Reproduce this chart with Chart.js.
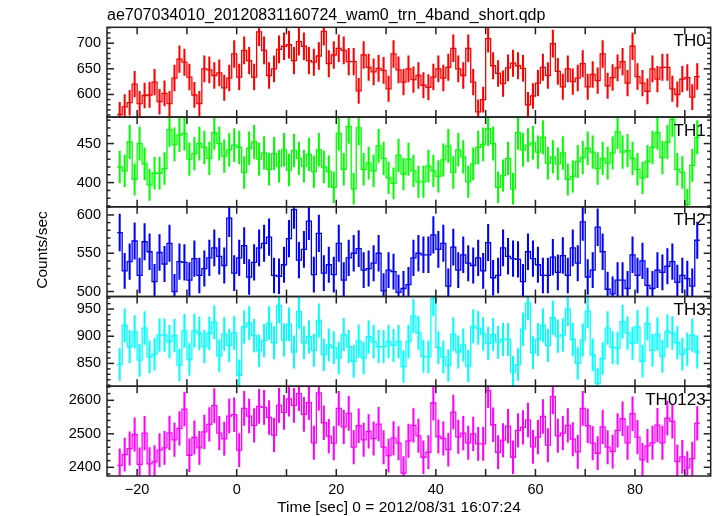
<!DOCTYPE html>
<html lang="en">
<head>
<meta charset="UTF-8">
<title>WAM light curve - 4 bands</title>
<script src="https://cdn.jsdelivr.net/npm/chart.js"></script>
<style>
  body { margin: 0; background: #fff; }
  #wrap { position: relative; width: 717px; height: 516px; }
</style>
</head>
<body>
<div id="wrap"><canvas id="lc" width="717" height="516"></canvas></div>
<script>
// time bins: 1 s wide, first bin starts at -24 s
const binStart = -24;
const binWidth = 1;
const xMin = -26.05;
const xMax = 95.2;
const xStep = 20;

const bandNames = ["TH0", "TH1", "TH2", "TH3", "TH0123"];
const bandColors = ["#ff0000", "#00ff00", "#0000ff", "#00ffff", "#ff00ff"];

// counts/sec per bin
const th0 = [
  561,576,584,620,582,598,599,624,586,602,582,632,669,663,634,599,582,650,648,637,642,613,632,679,634,686,666,634,722,686,637,650,688,694,697,666,703,694,
  666,663,675,723,660,677,690,686,664,664,607,677,653,644,651,647,611,679,648,624,650,629,637,618,614,634,650,632,653,690,650,637,690,624,566,590,709,656,641,621,652,
  661,656,651,580,597,622,653,637,699,645,615,650,625,632,660,615,639,627,679,617,633,652,664,622,694,635,622,606,650,630,653,653,611,600,630,633,595,635
];
const th1 = [
  420,415,452,404,450,424,397,412,412,418,468,449,461,463,430,437,450,445,431,464,450,434,442,448,445,413,444,452,430,438,417,437,421,442,416,441,431,421,
  436,414,442,420,414,394,463,417,472,392,470,417,425,415,447,431,406,399,435,411,430,415,401,401,421,415,408,429,447,413,442,433,401,424,445,449,469,450,394,409,431,
  392,464,442,448,451,439,458,425,433,424,438,404,408,427,432,444,439,418,431,425,438,465,439,441,431,417,406,427,445,464,432,452,481,417,413,372,422,458
];
const th2 = [
  577,527,539,566,521,565,552,513,551,536,563,500,539,538,515,543,521,530,544,557,546,534,596,524,544,560,519,538,557,563,571,521,520,535,569,607,541,555,
  592,522,576,524,535,522,563,515,544,550,556,528,530,537,550,501,528,526,499,504,509,544,550,548,548,574,555,563,507,558,528,548,537,534,544,527,564,518,521,557,546,
  543,542,513,552,543,535,521,521,545,525,547,521,557,537,591,519,528,584,552,503,497,515,515,504,548,521,540,508,504,528,525,533,539,512,521,517,507,567
];
const th3 = [
  848,920,881,908,856,915,862,867,902,902,890,901,847,910,857,910,905,881,905,926,864,904,883,906,828,917,924,901,873,892,924,888,956,893,922,871,945,888,
  899,874,929,866,884,879,860,903,881,854,891,860,899,890,881,881,890,883,890,844,890,937,906,863,862,969,879,862,846,904,871,884,845,918,915,904,887,903,889,894,
  894,834,848,913,961,870,894,920,883,934,900,902,950,894,850,893,946,866,813,859,915,879,878,927,906,887,917,854,923,874,904,863,909,906,888,867,876,902,871
];
const th0123 = [
  2406,2438,2456,2498,2409,2502,2410,2416,2451,2458,2503,2482,2516,2574,2436,2489,2458,2506,2528,2584,
  2502,2485,2553,2557,2451,2576,2553,2525,2582,2579,2549,2496,2585,2564,2604,2585,2620,2558,2593,2473,
  2622,2533,2493,2472,2576,2521,2561,2460,2524,2482,2507,2486,2529,2460,2435,2487,2472,2383,2479,2525,
  2494,2430,2445,2592,2492,2486,2453,2565,2491,2502,2473,2500,2470,2470,2629,2527,2445,2481,2523,2430,
  2510,2519,2541,2461,2490,2552,2466,2611,2494,2502,2525,2484,2446,2576,2524,2472,2442,2521,2460,2447,
  2510,2545,2473,2560,2490,2422,2464,2473,2526,2473,2547,2537,2417,2431,2398,2426,2531
];
const series = [th0, th1, th2, th3, th0123];

// y axis ranges per panel
const yMin = [556, 369, 493.5, 808, 2374];
const yMax = [731, 484, 610.7, 973, 2642];
const yStep = [50, 50, 50, 50, 100];
const yMinor = [10, 10, 10, 10, 20];

const titleText = "ae707034010_20120831160724_wam0_trn_4band_short.qdp";
const xTitle = "Time [sec] 0 = 2012/08/31 16:07:24";
const yTitle = "Counts/sec";

const FONT = '"Liberation Sans", Arial, Helvetica, sans-serif';
const tickFont = { family: FONT, size: 14.5 };
const fmt = v => (v < 0 ? "\u2212" + (-v) : String(v));

const datasets = [];
series.forEach((vals, k) => {
  // step histogram: points on left bin edges, plus closing edge
  const steps = vals.map((v, i) => ({ x: binStart + i * binWidth, y: v }));
  steps.push({ x: binStart + vals.length * binWidth, y: vals[vals.length - 1] });
  datasets.push({
    type: "line",
    label: bandNames[k],
    yAxisID: "y" + k,
    data: steps,
    stepped: "before",
    borderColor: bandColors[k],
    borderWidth: 1.3,
    pointRadius: 0,
    fill: false,
  });
  // poisson error bars at bin centres
  datasets.push({
    type: "bar",
    label: bandNames[k] + " err",
    yAxisID: "y" + k,
    grouped: false,
    data: vals.map((v, i) => ({
      x: binStart + (i + 0.5) * binWidth,
      y: [v - Math.sqrt(v), v + Math.sqrt(v)],
    })),
    backgroundColor: bandColors[k],
    borderWidth: 0,
    barThickness: 1.4,
    maxBarThickness: 1.4,
  });
});

const scales = {
  x: {
    type: "linear",
    position: "bottom",
    min: xMin,
    max: xMax,
    offset: false,
    grid: { display: false, offset: false, drawTicks: false },
    border: { display: false },
    ticks: {
      stepSize: xStep,
      includeBounds: false,
      autoSkip: false,
      maxRotation: 0,
      padding: 5,
      color: "#000",
      font: tickFont,
      callback: v => fmt(v),
    },
    afterFit: s => { s.height = 40; },
  },
};
bandNames.forEach((name, k) => {
  scales["y" + k] = {
    type: "linear",
    position: "left",
    stack: "bands",
    stackWeight: 1,
    weight: bandNames.length - k,
    min: yMin[k],
    max: yMax[k],
    beginAtZero: false,
    offset: false,
    grid: { display: false, drawTicks: false },
    border: { display: false },
    ticks: {
      stepSize: yStep[k],
      includeBounds: false,
      padding: 6,
      color: "#000",
      font: tickFont,
      callback: v => fmt(v),
    },
    afterFit: s => { s.width = 107; },
  };
});

// frames, inward tick marks, labels; clip each band to its own panel
const panelFrames = {
  id: "panelFrames",
  beforeDatasetDraw(chart, args) {
    const ys = chart.scales[args.meta.yAxisID];
    const a = chart.chartArea;
    const ctx = chart.ctx;
    ctx.save();
    ctx.beginPath();
    ctx.rect(a.left, ys.top, a.right - a.left, ys.bottom - ys.top);
    ctx.clip();
  },
  afterDatasetDraw(chart) {
    chart.ctx.restore();
  },
  afterDraw(chart) {
    const ctx = chart.ctx;
    const a = chart.chartArea;
    const xs = chart.scales.x;
    const seg = (x1, y1, x2, y2) => {
      ctx.beginPath();
      ctx.moveTo(x1, y1);
      ctx.lineTo(x2, y2);
      ctx.stroke();
    };
    ctx.save();
    ctx.strokeStyle = "#222";
    ctx.lineWidth = 1.5;
    bandNames.forEach((name, k) => {
      const ys = chart.scales["y" + k];
      for (let t = Math.ceil(xs.min / 10) * 10; t <= xs.max; t += 10) {
        const px = xs.getPixelForValue(t);
        seg(px, ys.top, px, ys.top + 7);
        seg(px, ys.bottom, px, ys.bottom - 7);
      }
      for (let v = Math.ceil(yMin[k] / yMinor[k]) * yMinor[k]; v <= yMax[k]; v += yMinor[k]) {
        const py = ys.getPixelForValue(v);
        const len = v % yStep[k] === 0 ? 7 : 3.5;
        seg(a.left, py, a.left + len, py);
        seg(a.right, py, a.right - len, py);
      }
      ctx.strokeRect(a.left, ys.top, a.right - a.left, ys.bottom - ys.top);

      ctx.fillStyle = "#000";
      ctx.font = "17px " + FONT;
      ctx.textAlign = "right";
      ctx.textBaseline = "alphabetic";
      ctx.fillText(name, a.right - 5, ys.top + 18.5);
    });

    ctx.fillStyle = "#000";
    ctx.font = "16px " + FONT;
    ctx.textAlign = "left";
    ctx.fillText(titleText, a.left, 20);

    ctx.font = "15.5px " + FONT;
    ctx.textAlign = "center";
    ctx.fillText(xTitle, 399, 512);

    ctx.translate(47, 250);
    ctx.rotate(-Math.PI / 2);
    ctx.fillText(yTitle, 0, 0);
    ctx.restore();
  },
};

new Chart(document.getElementById("lc"), {
  type: "line",
  data: { datasets },
  options: {
    responsive: false,
    animation: false,
    devicePixelRatio: 1,
    layout: { padding: { top: 27.3, right: 6.3, left: 0, bottom: 0 } },
    plugins: { legend: { display: false }, tooltip: { enabled: false } },
    scales,
  },
  plugins: [panelFrames],
});
</script>
</body>
</html>
